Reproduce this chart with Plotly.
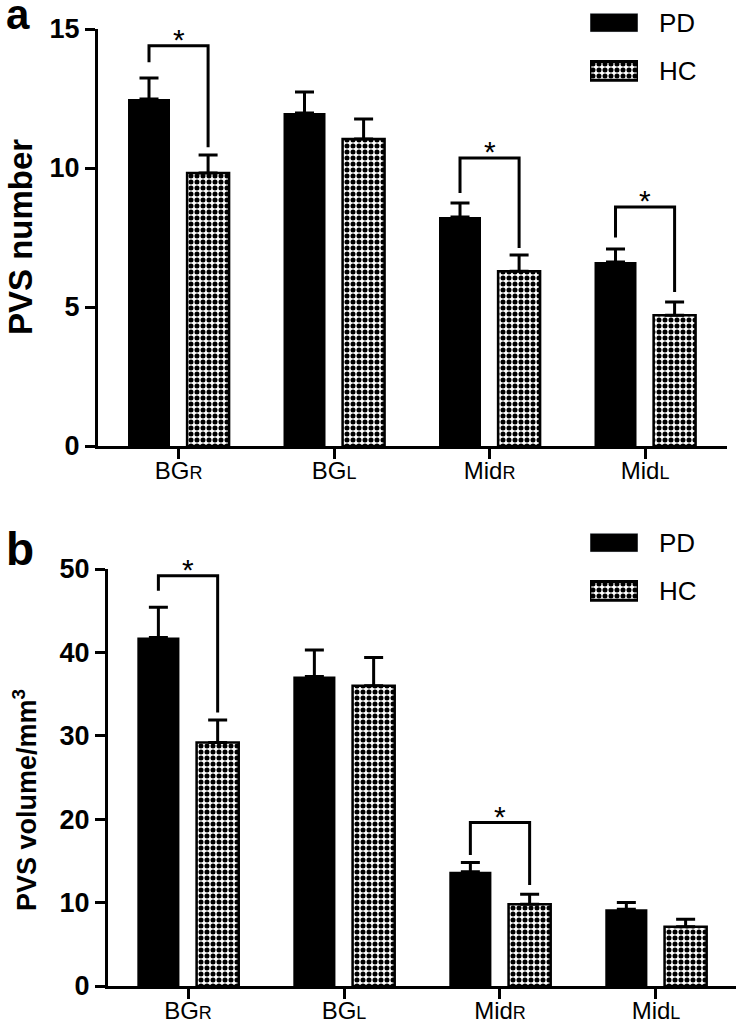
import plotly.graph_objects as go

# ---------------- data ----------------
categories = ["BG<span style='font-size:18px'>R</span>",
              "BG<span style='font-size:18px'>L</span>",
              "Mid<span style='font-size:18px'>R</span>",
              "Mid<span style='font-size:18px'>L</span>"]
series_names = ["PD", "HC"]

num_pd = [12.48, 11.98, 8.24, 6.62]
num_pd_err = [0.76, 0.75, 0.50, 0.47]
num_hc = [9.82, 11.04, 6.29, 4.70]
num_hc_err = [0.65, 0.72, 0.58, 0.48]

vol_pd = [41.8, 37.1, 13.7, 9.2]
vol_pd_err = [3.6, 3.2, 1.1, 0.8]
vol_hc = [29.2, 36.0, 9.8, 7.1]
vol_hc_err = [2.7, 3.4, 1.2, 0.9]

# significance brackets (category index, bracket level, left leg end, right leg end)
num_sig_idx = [0, 2, 3]
num_sig_top = [14.4, 10.36, 8.6]
num_sig_left = [13.8, 9.1, 7.5]
num_sig_right = [10.75, 7.12, 5.54]

vol_sig_idx = [0, 2]
vol_sig_top = [49.2, 19.6]
vol_sig_left = [47.4, 15.7]
vol_sig_right = [32.8, 12.1]

num_ticks = [0, 5, 10, 15]
vol_ticks = [0, 10, 20, 30, 40, 50]

# ---------------- style ----------------
W, H = 747, 1031
FONT = "Liberation Sans"
BAR_W = 0.27
OFF_PD = -0.325
OFF_HC = 0.055
C_PD = OFF_PD + BAR_W / 2
C_HC = OFF_HC + BAR_W / 2
checker = dict(shape=".", fgcolor="black", bgcolor="white", size=6, solidity=0.55, fillmode="replace")


def px_x(a, b):
    return [a / W, b / W]


def px_y(top, bottom):
    return [1 - bottom / H, 1 - top / H]


fig = go.Figure()
xs = list(range(len(categories)))


def add_panel(xa, ya, pd_v, pd_e, hc_v, hc_e, sig_idx, sig_top, sig_l, sig_r):
    fig.add_trace(go.Bar(
        x=xs, y=pd_v, name=series_names[0], width=BAR_W, offset=OFF_PD,
        marker=dict(color="black", line=dict(color="black", width=0)),
        error_y=dict(type="data", array=pd_e, arrayminus=[0] * len(pd_e), symmetric=False,
                     thickness=3, width=9.5, color="black"),
        xaxis=xa, yaxis=ya, showlegend=False))
    fig.add_trace(go.Bar(
        x=xs, y=hc_v, name=series_names[1], width=BAR_W, offset=OFF_HC,
        marker=dict(color="white", line=dict(color="black", width=2.5), pattern=checker),
        error_y=dict(type="data", array=hc_e, arrayminus=[0] * len(hc_e), symmetric=False,
                     thickness=3, width=9.5, color="black"),
        xaxis=xa, yaxis=ya, showlegend=False))
    for i, t, l, r in zip(sig_idx, sig_top, sig_l, sig_r):
        fig.add_trace(go.Scatter(
            x=[i + C_PD, i + C_PD, i + C_HC, i + C_HC], y=[l, t, t, r],
            mode="lines", line=dict(color="black", width=3),
            xaxis=xa, yaxis=ya, showlegend=False, hoverinfo="skip", cliponaxis=False))
        fig.add_annotation(x=i, y=t, xref=xa, yref=ya, text="*", showarrow=False,
                           yanchor="bottom", yshift=-12,
                           font=dict(family=FONT, size=30, color="black"))


add_panel("x", "y", num_pd, num_pd_err, num_hc, num_hc_err,
          num_sig_idx, num_sig_top, num_sig_left, num_sig_right)
add_panel("x2", "y2", vol_pd, vol_pd_err, vol_hc, vol_hc_err,
          vol_sig_idx, vol_sig_top, vol_sig_left, vol_sig_right)

# legend keys drawn as small horizontal bars on their own axes
for xa, ya in (("x3", "y3"), ("x4", "y4")):
    fig.add_trace(go.Bar(x=[1], y=[1], orientation="h", width=0.39, base=0,
                         marker=dict(color="black"), xaxis=xa, yaxis=ya,
                         showlegend=False, hoverinfo="skip"))
    fig.add_trace(go.Bar(x=[1], y=[0], orientation="h", width=0.39, base=0,
                         marker=dict(color="white", line=dict(color="black", width=3), pattern=checker),
                         xaxis=xa, yaxis=ya, showlegend=False, hoverinfo="skip"))

xaxis_common = dict(tickvals=xs, ticktext=categories, showline=True, linewidth=3, linecolor="black",
                    ticks="outside", ticklen=10, tickwidth=3, tickcolor="black",
                    ticklabelstandoff=-9,
                    tickfont=dict(family=FONT, size=24, color="black"),
                    showgrid=False, zeroline=False, fixedrange=True, automargin=False)
yaxis_common = dict(showline=True, linewidth=3, linecolor="black",
                    ticks="outside", ticklen=10, tickwidth=3, tickcolor="black",
                    tickfont=dict(family=FONT, size=27, color="black", weight="bold"),
                    showgrid=False, zeroline=False, fixedrange=True, automargin=False)
leg_x = dict(range=[0, 1], visible=False, fixedrange=True, automargin=False)
leg_y = dict(range=[-0.5, 1.45], tickvals=[0, 1], ticktext=[series_names[1], series_names[0]],
             side="right", showline=False, showgrid=False, zeroline=False, ticks="",
             ticklabelstandoff=20, tickfont=dict(family=FONT, size=26, color="black"),
             fixedrange=True, automargin=False)

fig.update_layout(
    width=W, height=H, margin=dict(l=0, r=0, t=0, b=0, pad=0, autoexpand=False),
    paper_bgcolor="white", plot_bgcolor="white", barmode="overlay",
    xaxis=dict(xaxis_common, domain=px_x(98, 727), range=[-0.518, 3.527], anchor="y"),
    yaxis=dict(yaxis_common, domain=px_y(29, 446), range=[0, 15], tickvals=num_ticks, anchor="x"),
    xaxis2=dict(xaxis_common, domain=px_x(108, 736), range=[-0.513, 3.513], anchor="y2"),
    yaxis2=dict(yaxis_common, domain=px_y(569, 986), range=[0, 50], tickvals=vol_ticks, anchor="x2"),
    xaxis3=dict(leg_x, domain=px_x(590, 638), anchor="y3"),
    yaxis3=dict(leg_y, domain=px_y(1, 95), anchor="x3"),
    xaxis4=dict(leg_x, domain=px_x(590, 638), anchor="y4"),
    yaxis4=dict(leg_y, domain=px_y(521, 615), anchor="x4"),
    font=dict(family=FONT, color="black"),
    showlegend=False,
)

# axis titles and panel letters
fig.add_annotation(x=20 / W, y=1 - 237 / H, xref="paper", yref="paper", text="PVS number",
                   textangle=-90, showarrow=False, xanchor="center", yanchor="middle",
                   font=dict(family=FONT, size=33, color="black", weight="bold"))
fig.add_annotation(x=25 / W, y=1 - 800 / H, xref="paper", yref="paper",
                   text="PVS volume/mm<sup>3</sup>",
                   textangle=-90, showarrow=False, xanchor="center", yanchor="middle",
                   font=dict(family=FONT, size=27, color="black", weight="bold"))
fig.add_annotation(x=4 / W, y=1 - 30 / H, xref="paper", yref="paper", text="a",
                   showarrow=False, xanchor="left", yanchor="bottom", yshift=-10,
                   font=dict(family=FONT, size=42, color="black", weight="bold"))
fig.add_annotation(x=4 / W, y=1 - 567 / H, xref="paper", yref="paper", text="b",
                   showarrow=False, xanchor="left", yanchor="bottom", yshift=-10,
                   font=dict(family=FONT, size=46, color="black", weight="bold"))

fig.write_html("out.html", config={"displayModeBar": False},
               post_script="document.body.style.margin='0';")
